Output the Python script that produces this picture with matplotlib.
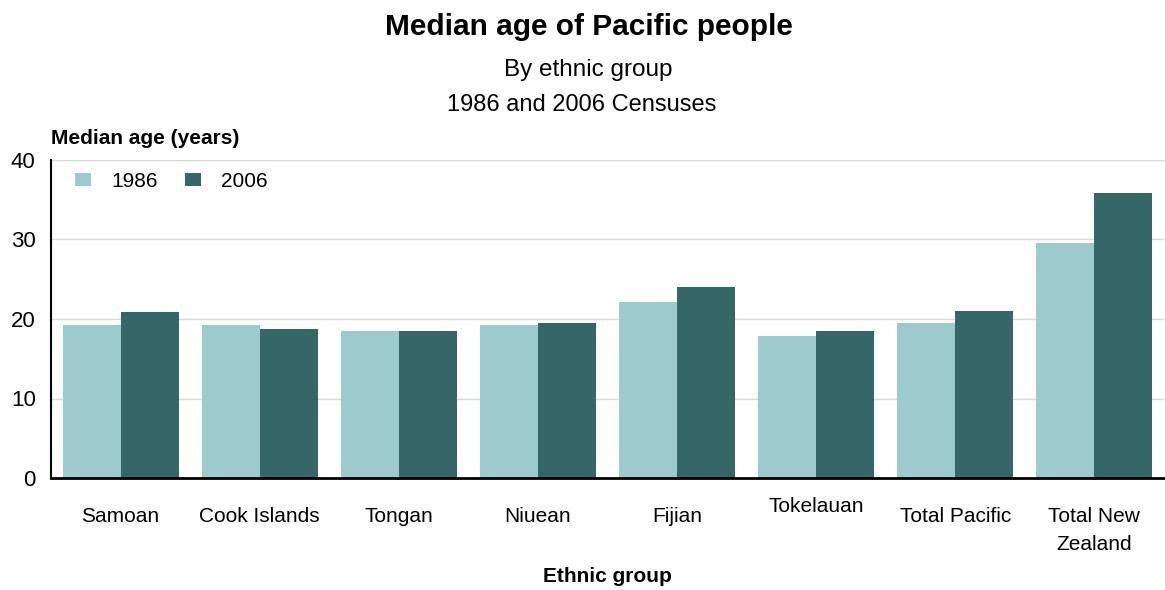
import numpy as np
import matplotlib
matplotlib.use("Agg")
import matplotlib.pyplot as plt

plt.rcParams['font.family'] = ['Liberation Sans', 'DejaVu Sans']

# median ages by ethnic group
groups = ["Samoan", "Cook Islands", "Tongan", "Niuean", "Fijian",
          "Tokelauan", "Total Pacific", "Total New\nZealand"]
age_1986 = [19.3, 19.2, 18.5, 19.2, 22.2, 17.8, 19.5, 29.6]
age_2006 = [20.9, 18.7, 18.5, 19.5, 24.0, 18.5, 21.0, 35.9]
yticks = [0, 10, 20, 30, 40]

light = "#9dcbcd"
dark = "#356668"

fig = plt.figure(figsize=(11.65, 5.9), dpi=100)
ax = fig.add_axes([51 / 1165, 1 - 478 / 590, 1113 / 1165, 318 / 590])

x = np.arange(len(groups))
w = 0.417
ax.bar(x - w / 2, age_1986, w, color=light, label="1986", zorder=2)
ax.bar(x + w / 2, age_2006, w, color=dark, label="2006", zorder=2)

ax.set_xlim(-0.5, len(groups) - 0.5)
ax.set_ylim(0, 40)
ax.set_yticks(yticks)
ax.set_yticklabels([str(t) for t in yticks], fontsize=16)
ax.tick_params(axis="y", length=0, pad=11)
ax.tick_params(axis="x", length=0)
ax.grid(axis="y", color="#d9d9d9", linewidth=1, zorder=0)

ax.set_xticks(x)
ax.set_xticklabels(groups, fontsize=15, va="top", linespacing=1.62)
ax.tick_params(axis="x", pad=21)
# Tokelauan sits a bit higher than the rest
for lbl in ax.get_xticklabels():
    if lbl.get_text() == "Tokelauan":
        lbl.set_y(lbl.get_position()[1] + 0.032)

for side in ["top", "right"]:
    ax.spines[side].set_visible(False)
ax.spines["left"].set_linewidth(1.5)
ax.spines["bottom"].set_linewidth(2)

leg = ax.legend(loc="upper left", ncol=2, frameon=True, fontsize=15,
                handlelength=0.8, handleheight=0.55, handletextpad=0.95,
                columnspacing=1.3, borderaxespad=0.0, borderpad=0.5,
                bbox_to_anchor=(0.012, 0.995))
leg.get_frame().set_edgecolor("white")
leg.get_frame().set_facecolor("white")
leg.get_frame().set_alpha(1)

fig.text(589 / 1165, 1 - 27 / 590, "Median age of Pacific people",
         ha="center", va="center", fontsize=21.5, fontweight="bold")
fig.text(588 / 1165, 1 - 70 / 590, "By ethnic group",
         ha="center", va="center", fontsize=17.5)
fig.text(582 / 1165, 1 - 105 / 590, "1986 and 2006 Censuses",
         ha="center", va="center", fontsize=17)
fig.text(51 / 1165, 1 - 138 / 590, "Median age (years)",
         ha="left", va="center", fontsize=15, fontweight="bold")
fig.text(607 / 1165, 1 - 577 / 590, "Ethnic group",
         ha="center", va="center", fontsize=15, fontweight="bold")

fig.savefig("out.png", dpi=100, facecolor="white")
